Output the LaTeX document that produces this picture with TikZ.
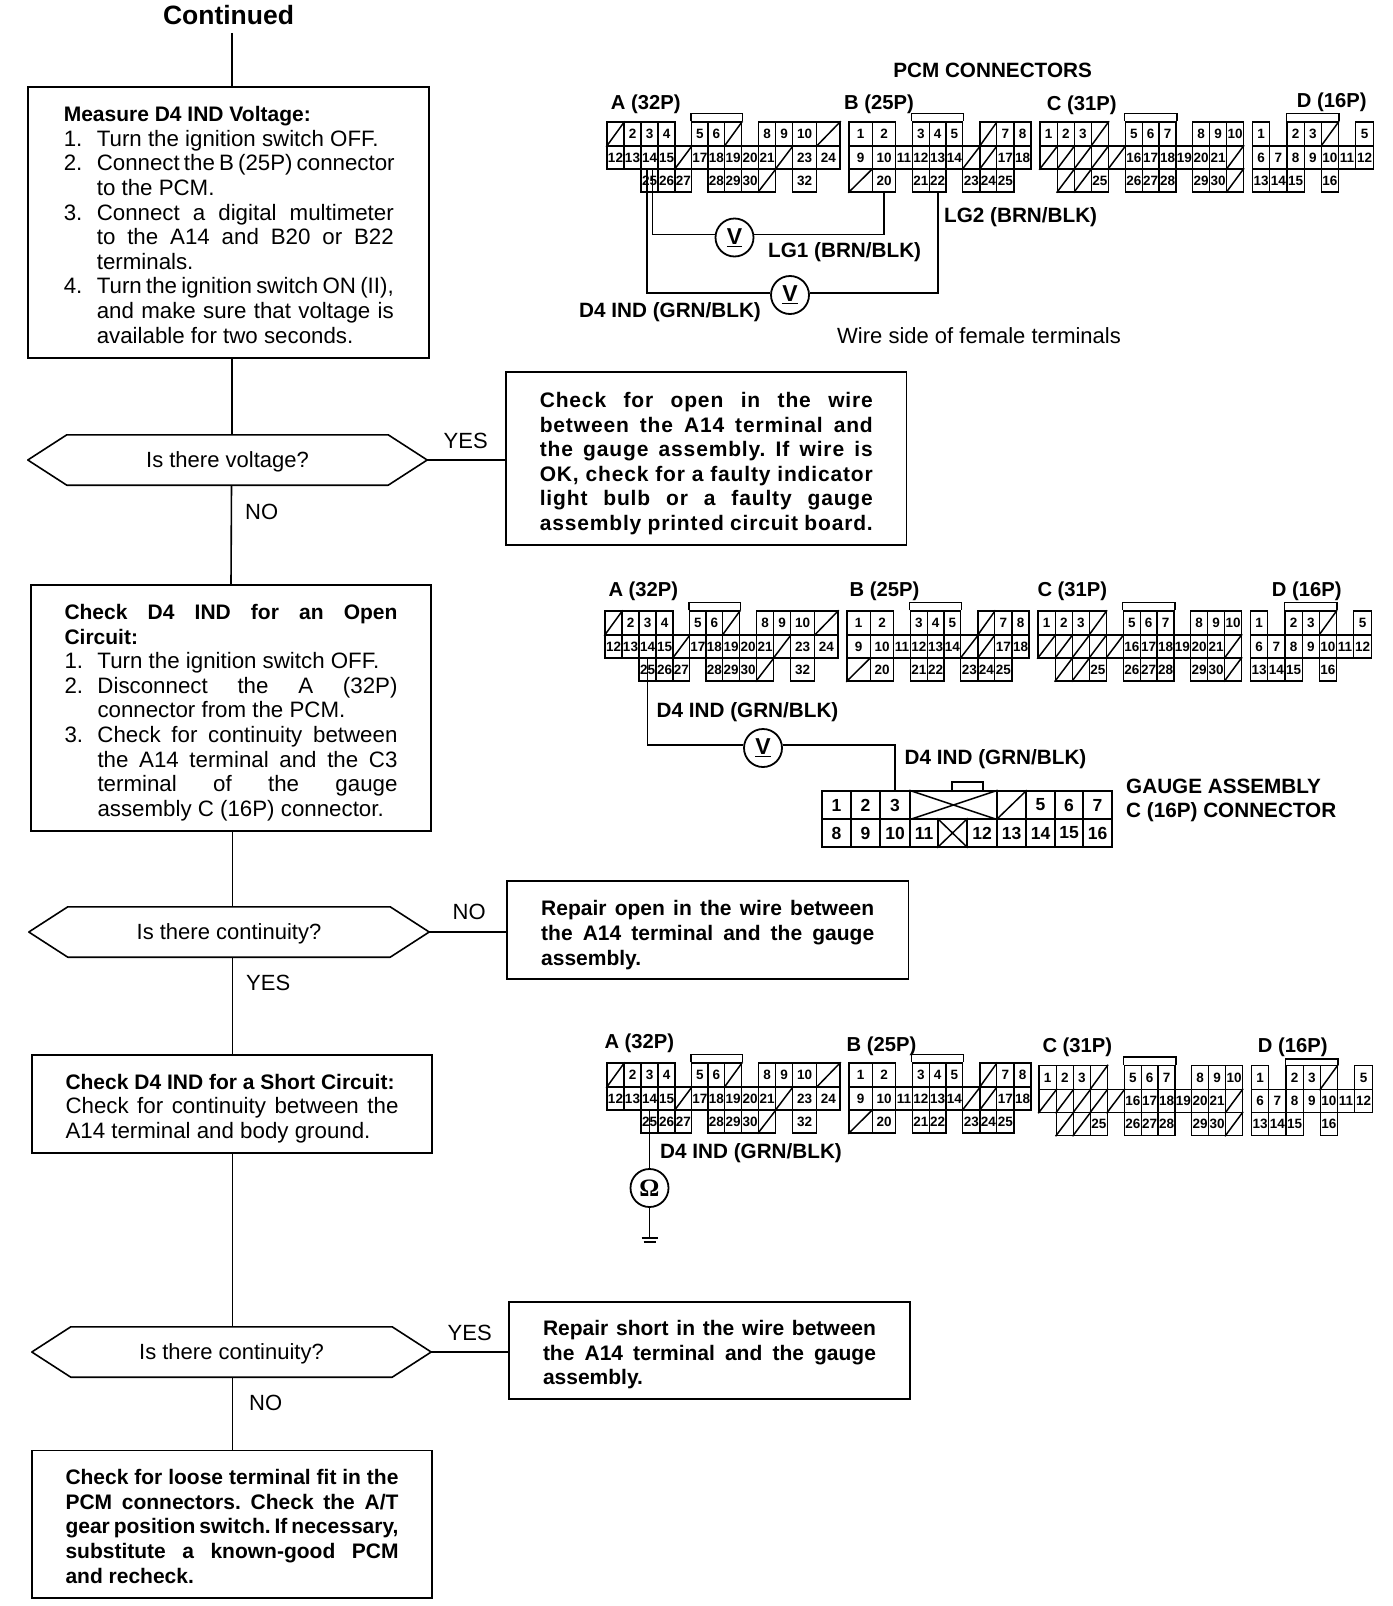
\documentclass[tikz,border=0pt]{standalone}
\usepackage{fontspec}
\setmainfont{Liberation Sans}
\newfontfamily\serf{Liberation Serif}
\newlength\bw
\newcommand\rg{\fontsize{22.3}{24.6}\selectfont}
\newcommand\bd{\fontsize{21}{24.6}\selectfont\bfseries}
\newcommand\ls{\addfontfeature{LetterSpace=4}}
\newcommand\stdsp{\frenchspacing\spaceskip=0pt\xspaceskip=0pt\relax}
\newcommand\tp[1]{\rule{0pt}{\dimexpr 15.5pt+#1\relax}}
\newcommand\Lj[1]{\makebox[\bw][s]{#1}}
\newcommand\Nl[2]{\makebox[33pt][l]{#1}#2}
\newcommand\Nj[2]{\makebox[33pt][l]{#1}\makebox[\dimexpr\bw-33pt\relax][s]{#2}}
\def\bumpD{-8}
\tikzset{
 flow/.style={line width=1.6pt,black},
 wire/.style={line width=1.7pt,black},
 cellline/.style={line width=1.5pt,black},
 cellbox/.style={draw,line width=1.5pt,inner sep=0pt,font=\fontsize{13.5}{14}\selectfont\bfseries},
 gaugebox/.style={cellbox,font=\fontsize{17.5}{18}\selectfont\bfseries},
 stepbox/.style={draw,line width=1.8pt,inner sep=0pt,text width=\bw,align=left,font=\rg,execute at begin node={\stdsp}},
 hexlabel/.style={inner sep=0pt,minimum height=50pt,text height=20pt,text depth=4.8pt,font=\fontsize{22}{24}\selectfont},
 lab/.style={inner sep=0pt,anchor=west,font=\fontsize{22}{24}\selectfont},
 blab/.style={inner sep=0pt,anchor=west,yshift=-2pt,font=\fontsize{20.7}{24}\selectfont\bfseries},
 chead/.style={blab,font=\fontsize{20.2}{24}\selectfont\bfseries},
 meter/.style={draw,circle,line width=1.8pt,minimum size=38pt,inner sep=0pt,font=\fontsize{23}{24}\selectfont\bfseries},
}
\newcommand\crow[5][cellbox]{\foreach \xa/\xb/\lb in {#5}{%
 \node[#1,minimum width={(\xb-\xa)*1pt},minimum height={(#4-#3)*1pt}] (#2\lb) at ({(\xa+\xb)/2},{(#3+#4)/2}) {\lb};}}
\newcommand\srow[5][cellbox]{\foreach \xa/\xb/\lb in {#5}{%
 \node[#1,minimum width={(\xb-\xa)*1pt},minimum height={(#4-#3)*1pt}] (#2\lb) at ({(\xa+\xb)/2},{(#3+#4)/2}) {};
 \draw[cellline] (#2\lb.south west) -- (#2\lb.north east);}}
\newcommand\connA[1]{%
 \crow{#1A}{122}{146}{624/641/2,641/658/3,658/675/4,691.7/708/5,708/724.7/6,758.3/775.7/8,775.7/792.7/9,792.7/816.7/10}
 \srow{#1A}{122}{146}{607/624/sa,724.7/741.7/sb,816.7/840/sc}
 \crow{#1A}{146}{169}{607/624/12,624/641/13,641/658/14,658/675/15,691.7/708/17,708/724.7/18,724.7/741.7/19,741.7/758.3/20,758.3/775.7/21,792.7/816.7/23,816.7/840/24}
 \srow{#1A}{146}{169}{675/691.7/sd,775.7/792.7/se}
 \crow{#1A}{169}{192}{641/658/25,658/675/26,675/691.7/27,708/724.7/28,724.7/741.7/29,741.7/758.3/30,792.7/816.7/32}
 \srow{#1A}{169}{192}{758.3/775.7/sf}
 \draw[cellline] (#1A5.north west) -- ++(0,-8) -| (#1Asb.north east);}
\newcommand\connB[1]{%
 \crow{#1B}{122}{146}{849/872.3/1,872.3/895.7/2,912.3/929.3/3,929.3/946/4,946/962.7/5,996.7/1014/7,1014/1031/8}
 \srow{#1B}{122}{146}{980/996.7/sa}
 \crow{#1B}{146}{169}{849/872.3/9,872.3/895.7/10,895.7/912.3/11,912.3/929.3/12,929.3/946/13,946/962.7/14,996.7/1014/17,1014/1031/18}
 \srow{#1B}{146}{169}{962.7/980/sb,980/996.7/sc}
 \crow{#1B}{169}{192}{872.3/895.7/20,912.3/929.3/21,929.3/946/22,962.7/980/23,980/996.7/24,996.7/1014/25}
 \srow{#1B}{169}{192}{849/872.3/sd}
 \draw[cellline] (#1B3.north west) -- ++(0,-8) -| (#1B5.north east);}
\newcommand\connC[1]{%
 \crow{#1C}{122}{146}{1040/1057.3/1,1057.3/1074.3/2,1074.3/1091.3/3,1125.3/1142.3/5,1142.3/1159/6,1159/1176/7,1192.7/1209.7/8,1209.7/1226.7/9,1226.7/1243.3/10}
 \srow{#1C}{122}{146}{1091.3/1108.3/sa}
 \srow{#1C}{146}{169}{1040/1057.3/sb,1057.3/1074.3/sc,1074.3/1091.3/sd,1091.3/1108.3/se,1108.3/1125.3/sf,1226.7/1243.3/sg}
 \crow{#1C}{146}{169}{1125.3/1142.3/16,1142.3/1159/17,1159/1176/18,1176/1192.7/19,1192.7/1209.7/20,1209.7/1226.7/21}
 \srow{#1C}{169}{192}{1057.3/1074.3/sh,1074.3/1091.3/si,1226.7/1243.3/sj}
 \crow{#1C}{169}{192}{1091.3/1108.3/25,1125.3/1142.3/26,1142.3/1159/27,1159/1176/28,1192.7/1209.7/29,1209.7/1226.7/30}
 \draw[cellline] (#1C5.north west) -- ++(0,-8) -| (#1C7.north east);}
\newcommand\connD[1]{%
 \crow{#1D}{122}{146}{1252.7/1269.7/1,1287/1304.3/2,1304.3/1321.3/3,1355.7/1373.3/5}
 \srow{#1D}{122}{146}{1321.3/1338.3/sa}
 \crow{#1D}{146}{169}{1252.7/1269.7/6,1269.7/1287/7,1287/1304.3/8,1304.3/1321.3/9,1321.3/1338.3/10,1338.3/1355.7/11,1355.7/1373.3/12}
 \crow{#1D}{169}{192}{1252.7/1269.7/13,1269.7/1287/14,1287/1304.3/15,1321.3/1338.3/16}
 \draw[cellline] (#1D2.north west) -- ++(0,\bumpD) -| (#1Dsa.north east);}
\newcommand\hexnode[6]{%
 \node[hexlabel,minimum width={2*#4*1pt}] (#1) at (#2,#3) {#6};
 \draw[flow,line join=round] (#1.west) -- ([xshift=#5pt]#1.north west) -- ([xshift=-#5pt]#1.north east) -- (#1.east) -- ([xshift=-#5pt]#1.south east) -- ([xshift=#5pt]#1.south west) -- cycle;}
\begin{document}
\begin{tikzpicture}[x=1pt,y=-1pt]
\useasboundingbox[fill=white] (0,0) rectangle (1392,1606);

\node[inner sep=0pt,font=\fontsize{26.5}{28}\selectfont\bfseries] (cont) at (228.5,15) {Continued};

% --- flow chart ---
\setlength{\bw}{330pt}
\node[stepbox,minimum width=401pt,minimum height=271pt] (b1) at (228.8,222.2) {\tp{5pt}%
 {\bd Measure D4 IND Voltage:}\\
 \Nl{1.}{Turn the ignition switch OFF.}\\
 \Nj{2.}{Connect the B (25P) connector}\\
 \Nl{}{to the PCM.}\\
 \Nj{3.}{Connect a digital multimeter}\\
 \Nj{}{to the A14 and B20 or B22}\\
 \Nl{}{terminals.}\\
 \Nj{4.}{Turn the ignition switch ON (II),}\\
 \Nj{}{and make sure that voltage is}\\
 \Nl{}{available for two seconds.}};
\hexnode{d1}{227.5}{460}{199.5}{39}{Is there voltage?}
\setlength{\bw}{333pt}
\node[stepbox,minimum width=400.5pt,minimum height=173pt,font=\bd\ls] (b2) at (706.3,458.5) {\tp{10pt}%
 \Lj{Check for open in the wire}\\
 \Lj{between the A14 terminal and}\\
 \Lj{the gauge assembly. If wire is}\\
 \Lj{OK, check for a faulty indicator}\\
 \Lj{light bulb or a faulty gauge}\\
 \Lj{assembly printed circuit board.}};
\node[stepbox,minimum width=400pt,minimum height=246pt] (b3) at (231,708) {\tp{9pt}%
 {\bd\Lj{Check D4 IND for an Open}\\
 Circuit:}\\
 \Nl{1.}{Turn the ignition switch OFF.}\\
 \Nj{2.}{Disconnect the A (32P)}\\
 \Nl{}{connector from the PCM.}\\
 \Nj{3.}{Check for continuity between}\\
 \Nj{}{the A14 terminal and the C3}\\
 \Nj{}{terminal of the gauge}\\
 \Nl{}{assembly C (16P) connector.}};
\hexnode{d2}{229}{932}{200}{39}{Is there continuity?}
\node[stepbox,minimum width=401.5pt,minimum height=98pt,font=\bd] (b4) at (707.7,930) {\tp{10pt}%
 \Lj{Repair open in the wire between}\\
 \Lj{the A14 terminal and the gauge}\\
 assembly.};
\node[stepbox,minimum width=400pt,minimum height=98pt] (b5) at (232,1104) {\tp{9pt}%
 {\bd Check D4 IND for a Short Circuit:}\\
 \Lj{Check for continuity between the}\\
 A14 terminal and body ground.};
\hexnode{d3}{231.5}{1352}{199.5}{39}{Is there continuity?}
\node[stepbox,minimum width=401pt,minimum height=97pt,font=\bd] (b6) at (709.5,1350.5) {\tp{8pt}%
 \Lj{Repair short in the wire between}\\
 \Lj{the A14 terminal and the gauge}\\
 assembly.};
\node[stepbox,minimum width=400pt,minimum height=147.5pt,font=\bd] (b7) at (232,1524.2) {\tp{4pt}%
 \Lj{Check for loose terminal fit in the}\\
 \Lj{PCM connectors. Check the A/T}\\
 \Lj{gear position switch. If necessary,}\\
 \Lj{substitute a known-good PCM}\\
 and recheck.};

\node[lab] (yes1) at (443.5,440.5) {YES};
\node[lab] (no1) at (245,512) {NO};
\node[lab] (no2) at (452.5,912) {NO};
\node[lab] (yes2) at (246,983) {YES};
\node[lab] (yes3) at (447.5,1333) {YES};
\node[lab] (no3) at (249,1403) {NO};

\draw[flow] ([yshift=-8pt,xshift=3.2pt]cont.south) -- ([xshift=2.9pt]b1.north);
\draw[flow] ([xshift=2.9pt]b1.south) -- ([xshift=4.2pt]d1.north);
\draw[flow] (d1.east) -- (d1.east -| b2.west);
\draw[flow] ([xshift=4pt]d1.south) -- ([xshift=0pt]b3.north);
\draw[flow] ([xshift=1.5pt]b3.south) -- ([xshift=3.5pt]d2.north);
\draw[flow] (d2.east) -- (d2.east -| b4.west);
\draw[flow] ([xshift=3.5pt]d2.south) -- ([xshift=.5pt]b5.north);
\draw[flow] ([xshift=.5pt]b5.south) -- ([xshift=1pt]d3.north);
\draw[flow] (d3.east) -- (d3.east -| b6.west);
\draw[flow] ([xshift=1pt]d3.south) -- ([xshift=.5pt]b7.north);

% --- PCM connector set 1 ---
\node[inner sep=0pt,font=\fontsize{20.7}{24}\selectfont\bfseries] (pcm) at (992.6,70) {PCM CONNECTORS};
\node[chead] (s1la) at (610.7,102.5) {A (32P)};
\node[chead] (s1lb) at (844,102.5) {B (25P)};
\node[chead] (s1lc) at (1046.7,103) {C (31P)};
\node[chead] (s1ld) at (1296.7,100) {D (16P)};
\connA{S1}\connB{S1}\connC{S1}\connD{S1}
\node[meter] (v1) at (734.5,237.5) {\underline{V}};
\node[meter] (v2) at (790,295) {\underline{V}};
\draw[wire] ([xshift=-2.8pt]S1A14.south) |- ([yshift=2pt]v2.west);
\draw[wire] ([yshift=2pt]v2.east) -| (S1B22.south);
\draw[wire] ([xshift=3pt]S1A14.south) |- ([yshift=3pt]v1.west);
\draw[wire] ([yshift=3pt]v1.east) -| (S1B20.south);
\node[blab] (lg2) at (944,215) {LG2 (BRN/BLK)};
\node[blab] (lg1) at (768,250) {LG1 (BRN/BLK)};
\node[blab] (d4a) at (579,310) {D4 IND (GRN/BLK)};
\node[lab] (wside) at (837,336) {Wire side of female terminals};

% --- set 2 ---
\node[chead] (s2la) at (608.3,589) {A (32P)};
\node[chead] (s2lb) at (849.5,589) {B (25P)};
\node[chead] (s2lc) at (1037.3,589) {C (31P)};
\node[chead] (s2ld) at (1271.7,589) {D (16P)};
\begin{scope}[shift={(-2,489)}]
\connA{S2}\connB{S2}\connC{S2}\connD{S2}
\end{scope}
\node[blab] (d4b) at (656.5,710) {D4 IND (GRN/BLK)};
\node[blab] (d4c) at (904.5,757) {D4 IND (GRN/BLK)};
\node[blab] (ga1) at (1126,784) {GAUGE ASSEMBLY};
\node[blab] (ga2) at (1126,810) {C (16P) CONNECTOR};
\crow[gaugebox]{G}{791}{819}{822/851/1,851/880/2,880/910/3,1026/1055/5,1055/1083/6,1083/1112/7}
\srow[gaugebox]{G}{791}{819}{997/1026/sa}
\node[gaugebox,minimum width=87pt,minimum height=28pt] (Gxa) at (953.5,805) {};
\draw[cellline] (Gxa.south west) -- (Gxa.north east) (Gxa.north west) -- (Gxa.south east);
\crow[gaugebox]{G}{819}{847}{822/851/8,851/880/9,880/910/10,910/938/11,967/997/12,997/1026/13,1026/1055/14,1055/1083/15,1083/1112/16}
\node[gaugebox,minimum width=29pt,minimum height=28pt] (Gxb) at (952.5,833) {};
\draw[cellline] (Gxb.south west) -- (Gxb.north east) (Gxb.north west) -- (Gxb.south east);
\node[draw,line width=1.5pt,inner sep=0pt,minimum width=31pt,minimum height=9pt] (Gtab) at (967.5,786.5) {};
\node[meter] (v3) at (763,748) {\underline{V}};
\draw[wire] (S2A14.south) |- ([yshift=3pt]v3.west);
\draw[wire] ([yshift=3pt]v3.east) -| (G3.north);

% --- set 3 ---
\node[chead] (s3la) at (604.3,1041.7) {A (32P)};
\node[chead] (s3lb) at (846.5,1044) {B (25P)};
\node[chead] (s3lc) at (1042.3,1045) {C (31P)};
\node[chead] (s3ld) at (1257.7,1045) {D (16P)};
\begin{scope}[shift={(0,941)}]
\connA{S3}\connB{S3}
\end{scope}
\begin{scope}[shift={(-1,943.5)}]
\def\bumpD{-6}
\connC{S3}\connD{S3}
\end{scope}
\node[blab] (d4d) at (660,1151) {D4 IND (GRN/BLK)};
\node[meter,font=\fontsize{25}{26}\selectfont\bfseries\serf] (ohm) at (649.5,1188) {Ω};
\draw[wire] (S3A14.south) -- (ohm.north);
\coordinate (gnd) at (649.5,1238);
\draw[flow] (ohm.south) -- (gnd);
\draw[flow] ([xshift=-8pt]gnd) -- ([xshift=8pt]gnd);
\draw[flow] ([xshift=-6pt,yshift=-4pt]gnd) -- ([xshift=6pt,yshift=-4pt]gnd);
\end{tikzpicture}
\end{document}
